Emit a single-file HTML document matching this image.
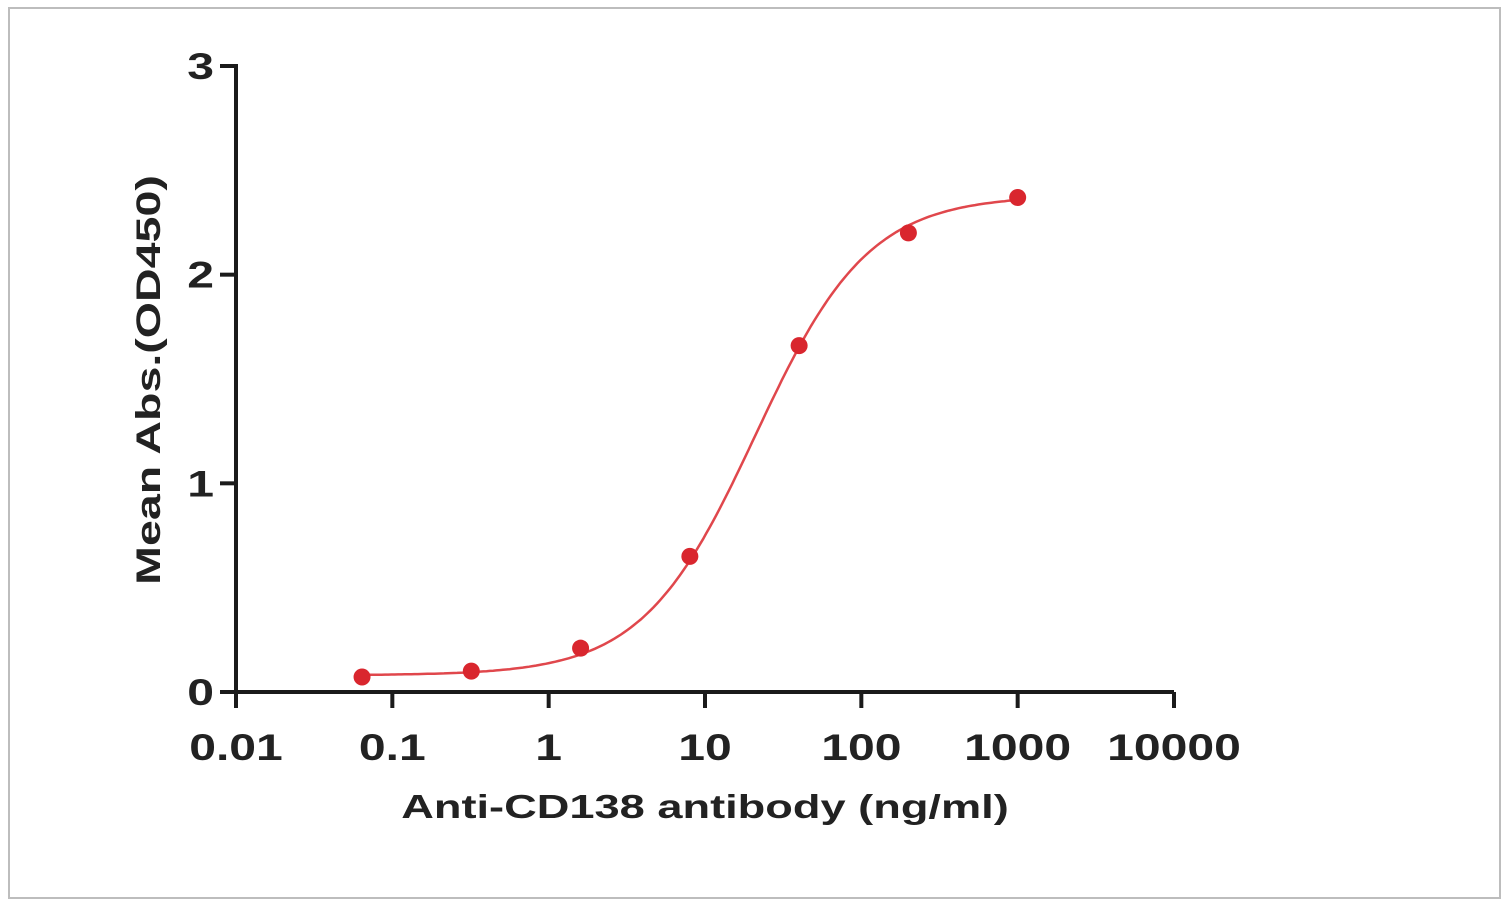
<!DOCTYPE html>
<html><head><meta charset="utf-8"><style>
html,body{margin:0;padding:0;background:#fff;}
svg{display:block;font-family:"Liberation Sans",Arial,sans-serif;}
</style></head><body>
<svg id="chart" width="1510" height="909" viewBox="0 0 1510 909">
<rect x="9" y="8" width="1491" height="890" fill="#fff" stroke="#bdbdbd" stroke-width="2"/>
<g id="axes"></g>
<text transform="translate(705,818) scale(1.37,1)" text-anchor="middle" font-size="33" font-weight="bold" fill="#222">Anti-CD138 antibody (ng/ml)</text>
<text transform="translate(160,380) rotate(-90) scale(1.37,1)" text-anchor="middle" font-size="34" font-weight="bold" fill="#222">Mean Abs.(OD450)</text>
<g id="plot"></g>
</svg>
<script>
const concentrations = [0.064, 0.32, 1.6, 8, 40, 200, 1000];
const absorbance = [0.072, 0.10, 0.21, 0.65, 1.66, 2.20, 2.37];
const xTicks = [0.01, 0.1, 1, 10, 100, 1000, 10000];
const xTickLabels = ["0.01", "0.1", "1", "10", "100", "1000", "10000"];
const yTicks = [0, 1, 2, 3];
const yTickLabels = ["0", "1", "2", "3"];
const fitParams = {bottom: 0.08, top: 2.38, ec50: 21, hill: 1.2};

const X0 = 236, X1 = 1174, Y0 = 692, Y1 = 66;
const xs = v => X0 + (Math.log10(v) + 2) / 6 * (X1 - X0);
const ys = v => Y0 - v / 3 * (Y0 - Y1);
const NS = "http://www.w3.org/2000/svg";
function mk(tag, attrs, parent) {
  const e = document.createElementNS(NS, tag);
  for (const k in attrs) e.setAttribute(k, attrs[k]);
  parent.appendChild(e); return e;
}
const axes = document.getElementById('axes');
const plot = document.getElementById('plot');

const xa = mk('line', {x1: X0, y1: Y0, x2: X1, y2: Y0, stroke: '#1a1a1a', 'stroke-width': 4}, axes);


const ya = mk('line', {x1: X0, y1: Y0 + 16, x2: X0, y2: Y1 - 2, stroke: '#1a1a1a', 'stroke-width': 4}, axes);



xTicks.forEach((t, i) => {
  const x = xs(t);
  const tk = mk('line', {x1: x, y1: Y0, x2: x, y2: Y0 + 16, stroke: '#1a1a1a', 'stroke-width': 4}, axes);
  
  
  const lb = mk('text', {transform: 'translate(' + x + ',' + (Y0 + 68) + ') scale(1.3,1)', 'text-anchor': 'middle', 'font-size': 37, 'font-weight': 'bold', fill: '#222'}, axes);
  lb.textContent = xTickLabels[i];
  
  
});
yTicks.forEach((t, i) => {
  const y = ys(t);
  const tk = mk('line', {x1: X0 - 16, y1: y, x2: X0, y2: y, stroke: '#1a1a1a', 'stroke-width': 4}, axes);
  
  
  const lb = mk('text', {transform: 'translate(' + (X0 - 22) + ',' + (y + 13) + ') scale(1.3,1)', 'text-anchor': 'end', 'font-size': 37, 'font-weight': 'bold', fill: '#222'}, axes);
  lb.textContent = yTickLabels[i];
  
  
});

// fitted 4PL curve
const p = fitParams;
const f = c => p.bottom + (p.top - p.bottom) / (1 + Math.pow(p.ec50 / c, p.hill));
const lo = Math.log10(concentrations[0]), hi = Math.log10(concentrations[concentrations.length - 1]);
let d = '';
for (let i = 0; i <= 200; i++) {
  const c = Math.pow(10, lo + (hi - lo) * i / 200);
  d += (i ? 'L' : 'M') + xs(c).toFixed(1) + ',' + ys(f(c)).toFixed(1);
}
const curve = mk('path', {d: d, fill: 'none', stroke: '#e0474c', 'stroke-width': 2.5}, plot);



concentrations.forEach((c, i) => {
  const pt = mk('circle', {cx: xs(c), cy: ys(absorbance[i]), r: 8.5, fill: '#d9262e'}, plot);
  
  
});
</script>
</body></html>
